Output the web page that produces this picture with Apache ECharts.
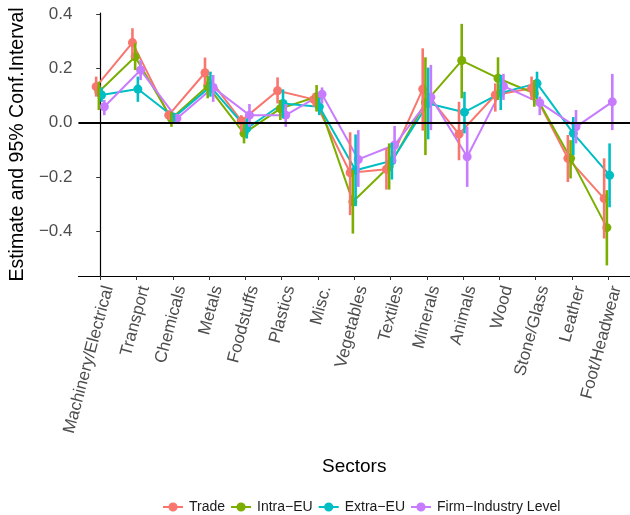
<!DOCTYPE html>
<html>
<head>
<meta charset="utf-8">
<script src="https://cdn.jsdelivr.net/npm/echarts@6/dist/echarts.min.js"></script>
<style>html,body{margin:0;padding:0;background:#fff;}#c{width:630px;height:515px;}</style>
</head>
<body>
<div id="c"></div>
<script>
const categories = ['Machinery/Electrical','Transport','Chemicals','Metals','Foodstuffs','Plastics','Misc.','Vegetables','Textiles','Minerals','Animals','Wood','Stone/Glass','Leather','Foot/Headwear'];
const seriesNames = ['Trade','Intra\u2212EU','Extra\u2212EU','Firm\u2212Industry Level'];
const yTicks = [-0.4, -0.2, 0, 0.2, 0.4];

const trade   = [0.133, 0.295, 0.028, 0.184, 0.007, 0.118, 0.086, -0.184, -0.171, 0.124, -0.042, 0.102, 0.127, -0.131, -0.279];
const tradeLo = [0.096, 0.237, 0.010, 0.139, -0.033, 0.071, 0.059, -0.340, -0.246, -0.029, -0.138, 0.041, 0.084, -0.218, -0.426];
const tradeHi = [0.170, 0.348, 0.046, 0.240, 0.028, 0.167, 0.108, -0.035, -0.094, 0.274, 0.077, 0.145, 0.170, -0.045, -0.131];

const intra   = [0.114, 0.243, 0.016, 0.135, -0.039, 0.052, 0.096, -0.291, -0.161, 0.075, 0.229, 0.164, 0.108, -0.131, -0.386];
const intraLo = [0.047, 0.194, -0.015, 0.090, -0.076, 0.010, 0.041, -0.408, -0.246, -0.119, 0.090, 0.084, 0.059, -0.205, -0.525];
const intraHi = [0.151, 0.293, 0.041, 0.172, -0.002, 0.084, 0.139, -0.174, -0.076, 0.241, 0.364, 0.241, 0.157, -0.064, -0.248];

const extra   = [0.102, 0.124, 0.020, 0.133, -0.021, 0.071, 0.059, -0.175, -0.140, 0.071, 0.039, 0.110, 0.145, -0.039, -0.193];
const extraLo = [0.077, 0.077, 0.005, 0.096, -0.058, 0.016, 0.028, -0.307, -0.209, -0.061, -0.039, 0.047, 0.090, -0.119, -0.311];
const extraHi = [0.130, 0.170, 0.035, 0.188, 0.016, 0.123, 0.091, -0.043, -0.074, 0.203, 0.114, 0.176, 0.188, 0.021, -0.076];

const firm   = [0.059, 0.194, 0.016, 0.130, 0.028, 0.028, 0.105, -0.135, -0.082, 0.094, -0.125, 0.135, 0.074, -0.015, 0.077];
const firmLo = [0.028, 0.157, 0.000, 0.077, -0.015, -0.015, 0.071, -0.236, -0.150, -0.027, -0.236, 0.084, 0.028, -0.076, -0.027];
const firmHi = [0.084, 0.231, 0.033, 0.176, 0.069, 0.069, 0.130, -0.027, -0.012, 0.213, -0.015, 0.180, 0.096, 0.047, 0.180];

const colors = ['#F8766D', '#7CAE00', '#00BFC4', '#C77CFF'];
const dodge = [-0.1125, -0.0375, 0.0375, 0.1125];
const groups = [[trade, tradeLo, tradeHi], [intra, intraLo, intraHi], [extra, extraLo, extraHi], [firm, firmLo, firmHi]];
const FONT = 'Liberation Sans, Arial, Helvetica, sans-serif';
const fmt = v => (v < 0 ? '\u2212' : '') + Math.abs(v).toFixed(1);
const legendIcon = 'path://M0,4.1 L20,4.1 L20,5.9 L0,5.9 Z M14.6,5 A4.6,4.6 0 1 1 5.4,5 A4.6,4.6 0 1 1 14.6,5 Z';

const series = [];
groups.forEach((g, k) => {
  series.push({
    name: seriesNames[k], type: 'line', z: 3,
    data: g[0].map((v, i) => [i + dodge[k], v]),
    symbol: 'circle', symbolSize: 9,
    itemStyle: { color: colors[k] },
    lineStyle: { color: colors[k], width: 2 },
    emphasis: { disabled: true }
  });
});
groups.forEach((g, k) => {
  series.push({
    name: seriesNames[k] + ' CI', type: 'custom', z: 4,
    data: g[1].map((lo, i) => [i + dodge[k], lo, g[2][i]]),
    encode: { x: 0, y: [1, 2] },
    renderItem: (params, api) => {
      const p1 = api.coord([api.value(0), api.value(1)]);
      const p2 = api.coord([api.value(0), api.value(2)]);
      return { type: 'line', shape: { x1: p1[0], y1: p1[1], x2: p2[0], y2: p2[1] },
               style: { stroke: colors[k], lineWidth: 2.6 } };
    }
  });
});
series.push({
  name: 'zero', type: 'line', data: [], z: 10,
  markLine: { silent: true, symbol: 'none', animation: false, label: { show: false },
    lineStyle: { color: '#000', width: 2.2, type: 'solid' }, data: [{ yAxis: 0 }] }
});

const chart = echarts.init(document.getElementById('c'), null, { renderer: 'canvas' });
chart.setOption({
  animation: false,
  textStyle: { fontFamily: FONT },
  color: colors,
  grid: { left: 76, top: 13, width: 557, height: 263 },
  legend: {
    data: seriesNames.map(n => ({ name: n, icon: legendIcon })),
    left: 163, top: 500, padding: 0, itemWidth: 20, itemHeight: 10, itemGap: 6,
    textStyle: { fontSize: 14, color: '#1a1a1a', fontFamily: FONT, padding: [0, 0, 0, 1] }
  },
  xAxis: {
    type: 'value', min: -0.6, max: 14.6,
    name: 'Sectors', nameLocation: 'middle', nameGap: 181,
    nameTextStyle: { fontSize: 19, color: '#000', fontFamily: FONT },
    axisLine: { show: true, onZero: false, lineStyle: { color: '#000', width: 1.2 } },
    axisTick: { show: true, length: 4, customValues: categories.map((c, i) => i), lineStyle: { color: '#333' } },
    axisLabel: {
      customValues: categories.map((c, i) => i), rotate: 75, margin: 8,
      verticalAlign: 'top', align: 'right',
      fontSize: 17, color: '#4D4D4D', fontFamily: FONT,
      formatter: v => categories[Math.round(v)] || ''
    },
    splitLine: { show: false }
  },
  yAxis: {
    type: 'value', min: -0.564, max: 0.404,
    name: 'Estimate and 95% Conf.Interval', nameLocation: 'middle', nameGap: 47,
    nameTextStyle: { fontSize: 19.5, color: '#000', fontFamily: FONT },
    axisLine: { show: true, lineStyle: { color: '#000', width: 1.2 } },
    axisTick: { show: true, length: 4, customValues: yTicks, lineStyle: { color: '#333' } },
    axisLabel: { customValues: yTicks, margin: 6, fontSize: 17, color: '#4D4D4D', fontFamily: FONT, formatter: fmt },
    splitLine: { show: false }
  },
  series: series
});
</script>
</body>
</html>
